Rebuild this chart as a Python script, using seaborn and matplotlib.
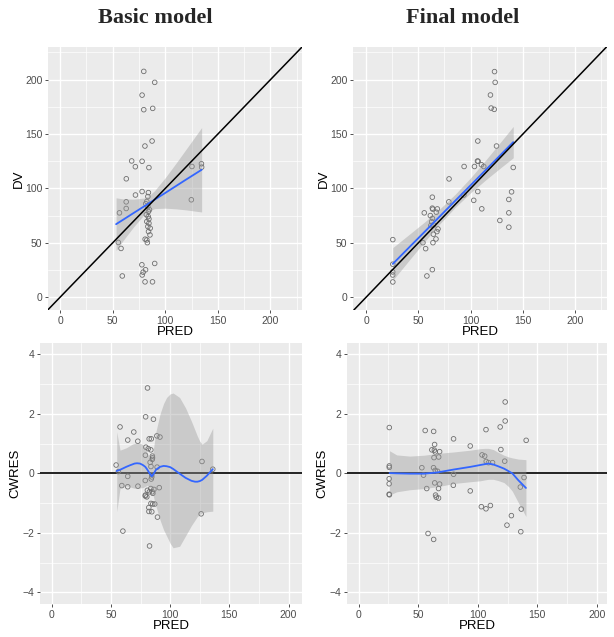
import numpy as np
import pandas as pd
import matplotlib
matplotlib.use("Agg")
import matplotlib.pyplot as plt
import seaborn as sns

# ---- data ----
basic_pred = [79.6, 90.0, 78.0, 79.6, 88.1, 87.5, 80.7, 68.1, 71.6, 78.0, 84.5, 63.0, 71.7, 78.0,
              84.0, 83.5, 62.9, 62.9, 56.5, 82.5, 83.5, 84.1, 83.8, 82.5, 84.5, 83.5, 85.7, 84.1,
              85.5, 80.9, 82.5, 83.0, 55.4, 58.0, 77.8, 90.0, 81.3, 79.0, 78.1, 59.2, 80.8, 87.9,
              124.8, 125.4, 134.4, 134.6, 84.5, 82.0, 85.0, 81.5]
basic_dv = [207.6, 197.5, 185.8, 172.4, 173.6, 143.6, 139.0, 125.3, 120.0, 125.0, 119.2, 108.9, 94.0, 97.2,
            96.2, 92.6, 87.7, 81.6, 77.6, 88.0, 83.4, 78.8, 74.2, 69.6, 68.0, 65.0, 63.5, 60.4,
            57.3, 53.4, 52.7, 50.2, 50.4, 44.9, 29.9, 31.1, 25.3, 23.1, 20.5, 19.6, 14.2, 14.2,
            89.6, 120.2, 122.7, 119.6, 72.0, 76.0, 80.5, 86.0]

final_pred = [122.9, 123.5, 119.0, 119.7, 122.6, 106.9, 124.8, 106.6, 107.2, 93.8, 103.7, 110.4, 112.6,
              140.8, 79.4, 106.9, 103.0, 110.7, 139.2, 136.6, 136.6, 128.0, 136.6, 79.2, 93.6, 25.6,
              25.6, 25.5, 25.5, 25.6, 63.4, 55.7, 63.4, 63.8, 67.2, 68.2, 61.5, 63.5, 62.8, 64.5,
              62.0, 68.8, 67.8, 64.4, 54.4, 64.0, 66.9, 57.0, 63.4, 58.2]
final_dv = [207.4, 197.5, 185.9, 173.9, 172.7, 143.6, 139.0, 125.2, 125.0, 120.2, 120.2, 121.8, 120.2,
            119.3, 108.8, 97.2, 89.1, 81.3, 96.9, 89.9, 77.6, 70.6, 64.4, 87.7, 94.0, 53.0,
            30.4, 23.3, 20.5, 14.1, 92.0, 77.6, 81.9, 81.0, 78.2, 81.2, 75.1, 72.5, 69.5, 66.5,
            66.0, 62.8, 60.4, 58.0, 50.2, 50.2, 53.6, 44.7, 25.4, 19.6]

basic_res_pred = [80.9, 79.3, 85.9, 57.7, 69.3, 64.2, 72.7, 82.3, 84.1, 88.8, 91.4, 79.5, 81.5, 83.7,
                  79.1, 85.0, 85.1, 84.9, 83.1, 83.8, 89.0, 54.4, 56.3, 126.9, 136.0, 64.2, 84.5,
                  84.5, 84.0, 59.2, 64.2, 72.8, 79.0, 83.7, 86.3, 90.8, 80.8, 84.9, 82.5, 79.1,
                  80.3, 79.0, 85.4, 83.8, 85.3, 87.0, 82.0, 82.1, 84.5, 89.3, 126.2, 60.1, 82.6]
basic_cwres = [2.87, 1.90, 1.82, 1.56, 1.39, 1.12, 1.08, 1.16, 1.16, 1.26, 1.22, 0.88, 0.83, 0.79,
               0.61, 0.58, 0.52, 0.47, 0.37, 0.23, 0.21, 0.28, 0.06, 0.40, 0.14, -0.10, -0.05,
               -0.12, -0.19, -0.41, -0.45, -0.43, -0.24, -0.51, -0.54, -0.48, -0.57, -0.62, -0.62, -0.73,
               -0.79, -0.76, -0.67, -1.01, -1.03, -1.03, -1.15, -1.28, -1.29, -1.47, -1.36, -1.94, -2.44]

final_res_pred = [25.8, 25.8, 25.8, 25.7, 25.7, 25.7, 25.9, 55.9, 63.0, 63.8, 61.5, 63.6, 64.3, 68.0,
                  67.2, 63.3, 53.1, 54.5, 62.9, 64.3, 66.3, 79.7, 93.7, 79.7, 79.5, 57.2, 63.9, 68.0,
                  67.1, 64.6, 65.2, 67.1, 93.7, 58.3, 63.0, 106.9, 103.6, 105.8, 107.1, 109.0, 112.4,
                  118.8, 119.4, 123.0, 123.0, 122.6, 140.6, 103.0, 106.9, 110.6, 128.2, 124.5, 136.1,
                  136.5, 135.7, 138.8]
final_cwres = [1.54, 0.25, 0.20, -0.18, -0.35, -0.70, -0.72, 1.44, 1.41, 0.97, 0.79, 0.78, 0.72, 0.73,
               0.55, 0.53, 0.19, -0.06, 0.19, 0.10, 0.07, 1.16, 0.92, -0.03, -0.40, -0.51, -0.32, -0.36,
               -0.51, -0.73, -0.80, -0.83, -0.59, -2.02, -2.22, 1.47, 0.62, 0.58, 0.40, 0.36, 0.36,
               1.56, 0.80, 1.76, 2.40, 0.41, 1.11, -1.12, -1.19, -1.08, -1.42, -1.74, -1.96,
               -1.20, -0.46, -0.14]

# smoother curves and their confidence bands
basic_fit_x = [53.3, 60, 70, 80, 85, 90, 100, 110, 120, 134.6]
basic_fit_y = [67.2, 71.3, 77.5, 83.6, 86.7, 89.8, 95.9, 102.1, 108.3, 117.2]
basic_fit_lo = [43.0, 52.2, 64.8, 76.0, 79.7, 81.5, 81.9, 81.3, 80.3, 78.4]
basic_fit_hi = [91.4, 90.4, 90.2, 91.2, 93.7, 98.1, 109.9, 122.9, 136.3, 156.0]

final_fit_x = [25.6, 40, 55, 70, 85, 100, 115, 130, 140.8]
final_fit_y = [30.7, 44.7, 59.2, 73.8, 88.4, 102.9, 117.5, 132.1, 142.6]
final_fit_lo = [15.7, 32.6, 50.0, 66.9, 82.4, 96.0, 108.3, 120.0, 128.2]
final_fit_hi = [45.7, 56.8, 68.4, 80.7, 94.4, 109.8, 126.7, 144.2, 157.0]

basic_sm_x = [54.9, 57.7, 63, 66, 68, 70, 72, 74.5, 77, 79, 80.5, 82.5, 84.5, 86, 88, 91.5, 94.5, 97,
              100, 102.5, 108, 113, 118, 121, 123, 125, 127, 131, 136]
basic_sm_y = [0.08, 0.12, 0.22, 0.27, 0.30, 0.33, 0.34, 0.33, 0.28, 0.22, 0.14, 0.01, -0.10, -0.02, 0.12,
              0.22, 0.25, 0.24, 0.21, 0.15, -0.01, -0.15, -0.25, -0.28, -0.28, -0.26, -0.22, -0.08, 0.14]
basic_sm_lo = [-1.29, -0.50, -0.42, -0.45, -0.48, -0.50, -0.50, -0.49, -0.48, -0.44, -0.40, -0.45, -0.55,
               -0.80, -1.10, -1.57, -1.90, -2.10, -2.35, -2.50, -2.45, -2.10, -1.75, -1.57, -1.45,
               -1.38, -1.33, -1.29, -1.27]
basic_sm_hi = [1.40, 0.78, 0.86, 0.93, 0.98, 1.01, 1.02, 1.01, 0.97, 0.85, 0.70, 0.52, 0.40, 0.85, 1.40,
               2.00, 2.35, 2.55, 2.67, 2.70, 2.55, 2.20, 1.75, 1.45, 1.25, 1.08, 0.98, 1.10, 1.52]

final_sm_x = [26, 32, 43, 55, 66, 80, 94, 102, 106, 109, 113, 117, 122, 126, 129, 134, 140.4]
final_sm_y = [0.01, 0.00, -0.01, -0.01, 0.03, 0.13, 0.22, 0.28, 0.31, 0.33, 0.30, 0.24, 0.16, 0.07,
              0.00, -0.23, -0.49]
final_sm_lo = [-0.73, -0.62, -0.55, -0.51, -0.45, -0.34, -0.28, -0.25, -0.22, -0.20, -0.20, -0.24,
               -0.31, -0.45, -0.60, -0.98, -1.45]
final_sm_hi = [0.76, 0.62, 0.58, 0.61, 0.67, 0.72, 0.78, 0.83, 0.84, 0.84, 0.80, 0.71, 0.61, 0.55,
               0.52, 0.48, 0.46]

# ---- style ----
sns.set_theme(style="darkgrid", rc={
    "axes.facecolor": "#EBEBEB",
    "grid.color": "white",
    "axes.edgecolor": "#EBEBEB",
})
plt.rcParams["font.family"] = ["Liberation Sans", "DejaVu Sans"]

fig = plt.figure(figsize=(6.14, 6.37), dpi=100)

panels = [
    # position, xlim, ylim
    ([0.0782, 0.5133, 0.4137, 0.4129], (-11.4, 230), (-11.7, 230)),
    ([0.5749, 0.5133, 0.4137, 0.4129], (-12.5, 230.5), (-11.7, 230)),
    ([0.0651, 0.0518, 0.4267, 0.4097], (-9.9, 211.3), (-4.39, 4.38)),
    ([0.5651, 0.0518, 0.4235, 0.4097], (-9.7, 208.4), (-4.39, 4.38)),
]
axes = [fig.add_axes(p[0]) for p in panels]

def style_axis(ax, xlim, ylim, top):
    ax.set_xlim(*xlim)
    ax.set_ylim(*ylim)
    ax.set_xticks([0, 50, 100, 150, 200])
    ax.set_xticks([25, 75, 125, 175, 225] if top else [25, 75, 125, 175], minor=True)
    if top:
        ax.set_yticks([0, 50, 100, 150, 200])
        ax.set_yticks([25, 75, 125, 175, 225], minor=True)
    else:
        ax.set_yticks([-4, -2, 0, 2, 4])
        ax.set_yticks([-3, -1, 1, 3], minor=True)
    ax.grid(True, which="major", color="white", linewidth=1.0)
    ax.grid(True, which="minor", color="white", linewidth=0.5)
    ax.set_axisbelow(True)
    for s in ax.spines.values():
        s.set_visible(False)
    ax.tick_params(which="major", length=2.5, width=0.6, color="#333333",
                   labelsize=7.5, labelcolor="#4D4D4D", pad=1.5, bottom=True, left=True)
    ax.tick_params(which="minor", length=0)
    ax.set_xlabel("PRED", fontsize=9.5, labelpad=0, color="black")

def draw_points(ax, x, y):
    df = pd.DataFrame({"x": x, "y": y})
    sns.scatterplot(data=df, x="x", y="y", ax=ax, marker="o", s=11,
                    facecolor="none", edgecolor="#6E6E6E", linewidth=0.6, zorder=2)

def draw_smooth(ax, x, y, lo, hi):
    ax.fill_between(x, lo, hi, color="#999999", alpha=0.4, linewidth=0, zorder=3)
    sm = pd.DataFrame({"x": x, "y": y})
    sns.lineplot(data=sm, x="x", y="y", ax=ax, color="#3366FF", linewidth=1.3, zorder=4)

# top panels: DV vs PRED
for ax, (pos, xl, yl), px, dv, fx, fy, flo, fhi in [
    (axes[0], panels[0], basic_pred, basic_dv, basic_fit_x, basic_fit_y, basic_fit_lo, basic_fit_hi),
    (axes[1], panels[1], final_pred, final_dv, final_fit_x, final_fit_y, final_fit_lo, final_fit_hi),
]:
    draw_points(ax, px, dv)
    draw_smooth(ax, fx, fy, flo, fhi)
    ax.axline((0, 0), slope=1, color="black", linewidth=1.1, zorder=5)
    style_axis(ax, xl, yl, True)
    ax.set_ylabel("DV", fontsize=9.5, labelpad=0, color="black")

# bottom panels: CWRES vs PRED
for ax, (pos, xl, yl), px, cw, sx, sy, slo, shi in [
    (axes[2], panels[2], basic_res_pred, basic_cwres, basic_sm_x, basic_sm_y, basic_sm_lo, basic_sm_hi),
    (axes[3], panels[3], final_res_pred, final_cwres, final_sm_x, final_sm_y, final_sm_lo, final_sm_hi),
]:
    ax.axhline(0, color="#222222", linewidth=1.4, zorder=1.5)
    draw_points(ax, px, cw)
    draw_smooth(ax, sx, sy, slo, shi)
    style_axis(ax, xl, yl, False)
    ax.set_ylabel("CWRES", fontsize=9.5, labelpad=1, color="black")

fig.text(155 / 614, 1 - 18 / 637, "Basic model", ha="center", va="center",
         fontsize=16, fontweight="bold", family=["Liberation Serif", "DejaVu Serif"])
fig.text(463 / 614, 1 - 18 / 637, "Final model", ha="center", va="center",
         fontsize=16, fontweight="bold", family=["Liberation Serif", "DejaVu Serif"])

fig.savefig("out.png", dpi=100)
